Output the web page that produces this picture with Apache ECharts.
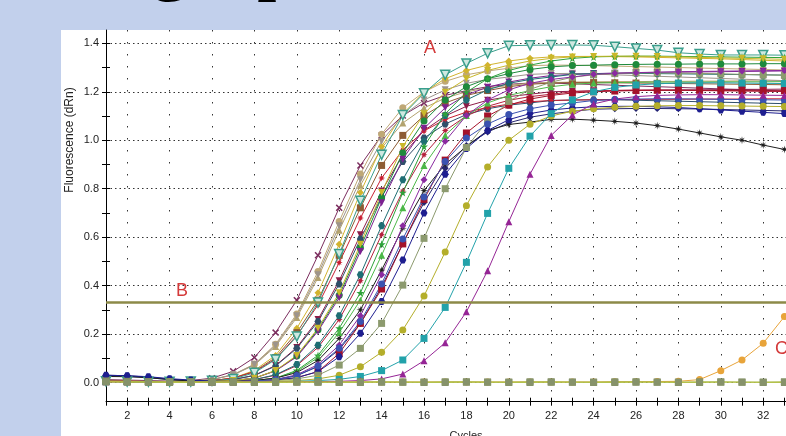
<!DOCTYPE html>
<html><head><meta charset="utf-8">
<script src="https://cdn.jsdelivr.net/npm/echarts@6/dist/echarts.min.js"></script>
<style>html,body{margin:0;padding:0;background:#c2d0ec;overflow:hidden}#c{width:786px;height:436px}</style>
</head><body><div id="c"></div>
<script>
// ---------- data ----------
const cycles = [1,2,3,4,5,6,7,8,9,10,11,12,13,14,15,16,17,18,19,20,21,22,23,24,25,26,27,28,29,30,31,32,33,34];
const xTickLabels = [2,4,6,8,10,12,14,16,18,20,22,24,26,28,30,32,34];
const yTickLabels = [0,0.2,0.4,0.6,0.8,1.0,1.2,1.4];
const yTicks = [0,0.1,0.2,0.3,0.4,0.5,0.6,0.7,0.8,0.9,1.0,1.1,1.2,1.3,1.4];
const threshold = 0.331;

const plumX = [0.012,0.010,0.008,0.006,0.008,0.018,0.046,0.103,0.206,0.340,0.525,0.721,0.896,1.020,1.102,1.154,1.185,1.205,1.221,1.231,1.236,1.236,1.233,1.230,1.227,1.224,1.221,1.218,1.215,1.212,1.209,1.206,1.203,1.200];
const tanCircle = [0.006,0.005,0.004,0.004,0.006,0.012,0.033,0.076,0.158,0.283,0.458,0.665,0.861,1.025,1.134,1.199,1.243,1.270,1.286,1.297,1.308,1.310,1.310,1.308,1.306,1.304,1.302,1.300,1.298,1.296,1.294,1.292,1.290,1.288];
const khakiTri = [0.004,0.004,0.003,0.004,0.006,0.012,0.031,0.072,0.149,0.268,0.433,0.628,0.814,0.968,1.071,1.133,1.174,1.200,1.215,1.226,1.236,1.238,1.240,1.241,1.242,1.242,1.243,1.243,1.244,1.244,1.245,1.245,1.246,1.246];
const goldDiamond = [0.003,0.003,0.002,0.003,0.005,0.008,0.018,0.050,0.112,0.224,0.370,0.571,0.784,0.974,1.109,1.198,1.254,1.288,1.310,1.327,1.338,1.344,1.346,1.346,1.345,1.344,1.342,1.340,1.338,1.336,1.333,1.330,1.327,1.324];
const grayDownTri = [0.008,0.006,0.005,0.004,0.006,0.012,0.032,0.074,0.154,0.276,0.445,0.647,0.837,0.996,1.102,1.166,1.208,1.235,1.251,1.261,1.272,1.275,1.276,1.273,1.270,1.267,1.264,1.261,1.258,1.255,1.252,1.249,1.246,1.243];
const brownSquare = [0.005,0.004,0.004,0.003,0.005,0.008,0.018,0.046,0.103,0.206,0.340,0.525,0.721,0.896,1.020,1.102,1.154,1.185,1.205,1.221,1.231,1.236,1.238,1.238,1.237,1.236,1.235,1.234,1.233,1.232,1.231,1.230,1.229,1.228];
const maroonDownTri = [0.006,0.005,0.004,0.003,0.004,0.006,0.012,0.030,0.070,0.145,0.260,0.420,0.610,0.790,0.940,1.040,1.100,1.140,1.165,1.180,1.190,1.200,1.202,1.204,1.205,1.206,1.207,1.208,1.208,1.209,1.210,1.210,1.211,1.211];
const slateHex = [0.028,0.026,0.020,0.012,0.008,0.006,0.012,0.029,0.068,0.141,0.252,0.407,0.592,0.766,0.912,1.009,1.067,1.106,1.130,1.145,1.154,1.164,1.166,1.167,1.167,1.165,1.163,1.161,1.159,1.157,1.155,1.153,1.151,1.149];
const redBurst = [0.006,0.005,0.004,0.003,0.005,0.008,0.018,0.044,0.097,0.194,0.320,0.495,0.679,0.844,0.960,1.038,1.086,1.116,1.135,1.149,1.159,1.164,1.166,1.167,1.168,1.168,1.169,1.169,1.170,1.170,1.170,1.171,1.171,1.171];
const greenCircle = [0.004,0.004,0.003,0.002,0.003,0.005,0.008,0.018,0.049,0.109,0.218,0.360,0.556,0.763,0.948,1.079,1.166,1.221,1.254,1.275,1.292,1.303,1.308,1.310,1.312,1.313,1.314,1.314,1.315,1.315,1.315,1.316,1.316,1.316];
const purpleDownTri = [0.005,0.004,0.003,0.003,0.003,0.005,0.008,0.018,0.048,0.106,0.212,0.350,0.541,0.742,0.922,1.049,1.134,1.187,1.219,1.240,1.256,1.267,1.272,1.275,1.277,1.279,1.280,1.281,1.282,1.283,1.284,1.285,1.286,1.287];
const tealDownTri = [0.005,0.004,0.003,0.003,0.004,0.007,0.015,0.040,0.095,0.190,0.330,0.530,0.750,0.940,1.104,1.194,1.270,1.317,1.359,1.390,1.392,1.393,1.393,1.392,1.386,1.379,1.372,1.361,1.356,1.352,1.352,1.352,1.351,1.350];
const crimsonBurst = [0.006,0.005,0.004,0.003,0.003,0.004,0.006,0.012,0.030,0.070,0.145,0.260,0.420,0.610,0.790,0.940,1.040,1.100,1.140,1.165,1.180,1.190,1.200,1.204,1.206,1.207,1.207,1.206,1.205,1.204,1.203,1.202,1.201,1.200];
const tealHex = [0.004,0.004,0.003,0.003,0.003,0.004,0.006,0.012,0.032,0.074,0.154,0.276,0.445,0.647,0.837,0.996,1.102,1.166,1.208,1.235,1.251,1.261,1.272,1.275,1.276,1.276,1.275,1.274,1.273,1.272,1.271,1.270,1.269,1.268];
const greenStar = [0.004,0.003,0.003,0.002,0.002,0.003,0.005,0.008,0.018,0.050,0.112,0.224,0.370,0.571,0.784,0.974,1.109,1.198,1.254,1.288,1.310,1.327,1.338,1.344,1.346,1.347,1.347,1.346,1.345,1.344,1.343,1.342,1.341,1.340];
const lightGreenTri = [0.005,0.004,0.003,0.003,0.002,0.003,0.005,0.008,0.018,0.046,0.103,0.206,0.340,0.525,0.721,0.896,1.020,1.102,1.154,1.185,1.205,1.221,1.231,1.236,1.238,1.239,1.240,1.240,1.240,1.241,1.241,1.241,1.242,1.242];
const navyDiamond = [0.030,0.028,0.022,0.014,0.008,0.005,0.004,0.006,0.012,0.028,0.066,0.136,0.244,0.395,0.573,0.743,0.884,0.978,1.034,1.072,1.095,1.109,1.119,1.128,1.130,1.131,1.131,1.130,1.129,1.127,1.125,1.123,1.121,1.119];
const blackStar = [0.025,0.024,0.020,0.012,0.006,0.004,0.005,0.008,0.018,0.041,0.091,0.182,0.300,0.464,0.637,0.792,0.901,0.974,1.040,1.065,1.075,1.086,1.087,1.083,1.078,1.071,1.060,1.046,1.030,1.014,1.000,0.980,0.962,0.945];
const darkRedSquare = [0.006,0.005,0.004,0.003,0.003,0.003,0.004,0.006,0.010,0.020,0.045,0.120,0.244,0.386,0.572,0.756,0.918,1.030,1.100,1.145,1.170,1.185,1.195,1.200,1.203,1.205,1.206,1.206,1.206,1.205,1.205,1.204,1.204,1.203];
const navyHex = [0.030,0.028,0.024,0.016,0.010,0.006,0.005,0.006,0.010,0.020,0.045,0.106,0.203,0.334,0.506,0.700,0.860,0.966,1.040,1.085,1.110,1.125,1.133,1.138,1.140,1.140,1.138,1.135,1.130,1.125,1.120,1.115,1.110,1.106];
const oliveXSquare = [0.005,0.004,0.004,0.003,0.003,0.003,0.004,0.005,0.008,0.015,0.030,0.072,0.141,0.244,0.402,0.595,0.800,0.970,1.080,1.160,1.210,1.240,1.260,1.270,1.275,1.278,1.278,1.277,1.276,1.274,1.272,1.270,1.268,1.266];
const purpleDiamond = [0.005,0.004,0.003,0.003,0.003,0.003,0.004,0.006,0.012,0.032,0.074,0.154,0.276,0.445,0.647,0.837,0.996,1.102,1.166,1.208,1.235,1.251,1.261,1.272,1.276,1.279,1.281,1.283,1.284,1.285,1.286,1.287,1.288,1.289];
const yellowDownTri = [0.004,0.003,0.003,0.002,0.003,0.005,0.008,0.018,0.050,0.112,0.224,0.370,0.571,0.784,0.974,1.109,1.198,1.254,1.288,1.310,1.327,1.338,1.344,1.346,1.347,1.347,1.346,1.344,1.342,1.340,1.338,1.336,1.334,1.332];
const blueCircle = [0.004,0.004,0.003,0.003,0.003,0.003,0.004,0.006,0.012,0.029,0.068,0.141,0.252,0.407,0.592,0.766,0.912,1.009,1.067,1.106,1.130,1.145,1.154,1.164,1.168,1.170,1.171,1.171,1.170,1.169,1.168,1.167,1.166,1.165];
const oliveCircle = [0.004,0.004,0.003,0.003,0.002,0.002,0.003,0.004,0.005,0.008,0.015,0.030,0.065,0.125,0.217,0.357,0.539,0.730,0.890,1.000,1.066,1.100,1.120,1.130,1.136,1.140,1.142,1.143,1.143,1.142,1.141,1.140,1.139,1.138];
const tealSquare = [0.004,0.004,0.003,0.003,0.002,0.002,0.002,0.003,0.004,0.005,0.008,0.013,0.025,0.049,0.093,0.182,0.310,0.496,0.698,0.884,1.017,1.110,1.166,1.200,1.218,1.228,1.233,1.236,1.237,1.237,1.236,1.235,1.234,1.233];
const purpleTri = [0.003,0.003,0.003,0.002,0.002,0.002,0.002,0.002,0.003,0.003,0.004,0.005,0.008,0.015,0.035,0.090,0.164,0.292,0.461,0.664,0.860,1.020,1.104,1.150,1.170,1.180,1.185,1.187,1.188,1.188,1.187,1.186,1.185,1.184];
const orangeCircle = [0.004,0.004,0.003,0.003,0.002,0.002,0.002,0.002,0.002,0.002,0.002,0.002,0.002,0.002,0.002,0.002,0.002,0.002,0.002,0.002,0.002,0.002,0.002,0.002,0.003,0.003,0.004,0.005,0.012,0.049,0.093,0.162,0.272,0.420];
const ntc1 = [0.006,0.005,0.004,0.003,0.003,0.003,0.002,0.002,0.003,0.003,0.002,0.002,0.003,0.003,0.002,0.002,0.003,0.003,0.002,0.002,0.003,0.003,0.002,0.002,0.003,0.003,0.002,0.002,0.003,0.003,0.002,0.002,0.003,0.003];
const ntc2 = [0.002,0.001,0.001,0.000,0.000,0.001,0.001,0.000,0.000,0.001,0.001,0.000,0.000,0.001,0.001,0.000,0.000,0.001,0.001,0.000,0.000,0.001,0.001,0.000,0.000,0.001,0.001,0.000,0.000,0.001,0.001,0.000,0.000,0.001];

// ---------- styles ----------
const SYM = {
  star5: 'path://M50,0L61,35L98,35L68,57L79,91L50,70L21,91L32,57L2,35L39,35Z',
  burst: 'path://M50,0L60,30L85,15L70,40L100,50L70,60L85,85L60,70L50,100L40,70L15,85L30,60L0,50L30,40L15,15L40,30Z',
  aster: 'path://M50,0L57,36L85,15L64,43L100,50L64,57L85,85L57,64L50,100L43,64L15,85L36,57L0,50L36,43L15,15L43,36Z',
  hex: 'path://M25,0L75,0L100,50L75,100L25,100L0,50Z',
  cross: 'path://M0,15L15,0L50,35L85,0L100,15L65,50L100,85L85,100L50,65L15,100L0,85L35,50Z'
};
const wells = [
  {d: ntc1, c:'#a9b843', m:'#7f8c5e', s:'rect', z:8},
  {d: ntc2, c:'#b3c24a', m:'#86926a', s:'rect', z:8},
  {d: plumX, c:'#7b2d5e', s:SYM.cross},
  {d: tanCircle, c:'#bfa876', s:'circle'},
  {d: khakiTri, c:'#b3a36f', s:'triangle'},
  {d: goldDiamond, c:'#d2b32e', s:'diamond'},
  {d: grayDownTri, c:'#9d948c', s:'triangle', r:180},
  {d: brownSquare, c:'#8e5b33', s:'rect'},
  {d: maroonDownTri, c:'#8c1c48', s:'triangle', r:180},
  {d: slateHex, c:'#2f4f6a', s:SYM.hex},
  {d: redBurst, c:'#c81e32', s:SYM.burst},
  {d: greenCircle, c:'#1e8a3c', s:'circle'},
  {d: purpleDownTri, c:'#7c2290', s:'triangle', r:180},
  {d: tealDownTri, c:'#3a9e8c', m:'#cfe8e0', s:'triangle', r:180, size:9, hollow:true},
  {d: crimsonBurst, c:'#b4203c', s:SYM.burst},
  {d: tealHex, c:'#1f6e74', s:SYM.hex},
  {d: greenStar, c:'#2ea23a', s:SYM.star5, size:8},
  {d: lightGreenTri, c:'#4cb848', s:'triangle'},
  {d: navyDiamond, c:'#26266e', s:'diamond'},
  {d: blackStar, c:'#1e1e1e', s:SYM.aster, size:8},
  {d: darkRedSquare, c:'#a4122a', s:'rect'},
  {d: navyHex, c:'#1e1e90', s:SYM.hex},
  {d: oliveXSquare, c:'#8c9a6e', s:'rect'},
  {d: purpleDiamond, c:'#8a2aa0', s:'diamond'},
  {d: yellowDownTri, c:'#c9b82a', s:'triangle', r:180},
  {d: blueCircle, c:'#3a52b0', s:'circle'},
  {d: oliveCircle, c:'#b4ae2a', s:'circle'},
  {d: tealSquare, c:'#22a2aa', s:'rect'},
  {d: purpleTri, c:'#952595', s:'triangle'},
  {d: orangeCircle, c:'#e8a43a', s:'circle'}
];

const FONT = 'Liberation Sans, Arial, sans-serif';

const series = wells.map((w, i) => ({
  type:'line', name:'w'+i,
  data: cycles.map((c, k) => [c, w.d[k]]),
  symbol: w.s, symbolSize: w.size || 7, symbolRotate: w.r || 0,
  showSymbol:true, silent:true, z: w.z || 3,
  lineStyle:{color:w.c, width:1},
  itemStyle:{color: w.m || w.c, borderColor: w.hollow ? w.c : (w.m || w.c), borderWidth: w.hollow ? 1.5 : 0}
}));
series.push({
  type:'line', data:[], silent:true,
  markLine:{symbol:'none', silent:true, label:{show:false},
    lineStyle:{color:'#8c8a48', width:2.5, type:'solid'},
    data:[{yAxis: threshold}]}
});

const chart = echarts.init(document.getElementById('c'), null, {renderer:'canvas'});
chart.setOption({
  animation:false,
  backgroundColor:'transparent',
  textStyle:{fontFamily:FONT},
  grid:{left:106, top:30, width:720.8, height:371.7, containLabel:false, outerBoundsMode:'none'},
  xAxis:[
    {type:'value', position:'bottom', min:1, max:35, interval:1,
     axisLine:{onZero:false, lineStyle:{color:'#000', width:1}},
     axisTick:{length:4, lineStyle:{color:'#000'}},
     axisLabel:{color:'#222', fontSize:11, fontFamily:FONT, margin:9,
       formatter: v => xTickLabels.indexOf(v) >= 0 ? String(v) : ''},
     splitLine:{show:false}},
    {type:'value', position:'bottom', min:1, max:35, interval:1,
     axisLine:{show:false, onZero:false}, axisTick:{inside:true, length:4, lineStyle:{color:'#000'}},
     axisLabel:{show:false}, splitLine:{show:false}},
    {type:'value', position:'bottom', min:1, max:35, splitNumber:17,
     axisLine:{show:false, onZero:false}, axisTick:{show:false}, axisLabel:{show:false},
     splitLine:{show:true, showMinLine:false, showMaxLine:false,
       lineStyle:{color:'#333', width:1, type:[1.5,10.5]}}}
  ],
  yAxis:[
    {type:'value', position:'left', min:-0.0792, max:1.455, splitNumber:15,
     axisLine:{show:true, onZero:false, lineStyle:{color:'#000', width:1}},
     axisTick:{length:4, customValues:yTicks, lineStyle:{color:'#000'}},
     axisLabel:{color:'#222', fontSize:11, fontFamily:FONT, margin:7, customValues:yTickLabels,
       formatter: v => yTickLabels.some(t => Math.abs(t - v) < 1e-6) ? v.toFixed(1) : ''},
     splitLine:{show:false}},
    {type:'value', position:'left', min:-0.0792, max:1.455, splitNumber:15,
     axisLine:{show:false, onZero:false},
     axisTick:{inside:true, length:4, customValues:yTicks, lineStyle:{color:'#000'}},
     axisLabel:{show:false}, splitLine:{show:false}},
    {type:'value', position:'left', min:-0.0792, max:1.455, splitNumber:7,
     axisLine:{show:false, onZero:false}, axisTick:{show:false}, axisLabel:{show:false},
     splitLine:{show:true, showMinLine:false, showMaxLine:false,
       lineStyle:{color:'#333', width:1, type:[1.5,3]}}}
  ],
  graphic:{elements:[
    {type:'rect', z:-100, silent:true, shape:{x:61, y:30, width:725, height:406}, style:{fill:'#ffffff'}},
    {type:'text', z:5, silent:true, x:150, y:-36, style:{text:'g', fill:'#000', font:'80px "Liberation Serif", "Times New Roman", serif', textVerticalAlign:'middle'}},
    {type:'text', z:5, silent:true, x:257, y:-36, style:{text:'p', fill:'#000', font:'80px "Liberation Serif", "Times New Roman", serif', textVerticalAlign:'middle'}},
    {type:'text', z:5, silent:true, x:70, y:140, rotation:Math.PI/2,
     style:{text:'Fluorescence (dRn)', fill:'#222', font:'12px ' + FONT, textAlign:'center', textVerticalAlign:'middle'}},
    {type:'text', z:5, silent:true, x:466, y:430, style:{text:'Cycles', fill:'#222', font:'11px ' + FONT, textAlign:'center', textVerticalAlign:'top'}},
    {type:'text', z:50, silent:true, x:430, y:48, style:{text:'A', fill:'#d43a3a', font:'18px ' + FONT, textAlign:'center', textVerticalAlign:'middle'}},
    {type:'text', z:50, silent:true, x:182, y:291, style:{text:'B', fill:'#d43a3a', font:'18px ' + FONT, textAlign:'center', textVerticalAlign:'middle'}},
    {type:'text', z:50, silent:true, x:775, y:349, style:{text:'C', fill:'#d43a3a', font:'18px ' + FONT, textAlign:'left', textVerticalAlign:'middle'}}
  ]},
  series: series
});
</script></body></html>
